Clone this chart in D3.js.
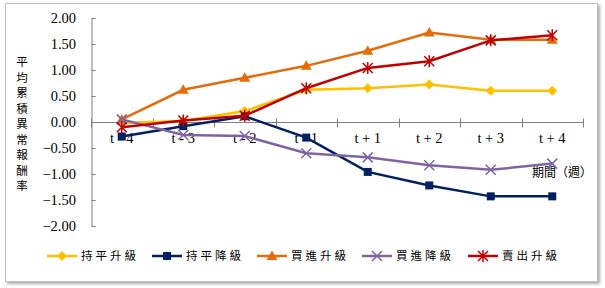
<!DOCTYPE html>
<html>
<head>
<meta charset="utf-8">
<script src="https://cdn.jsdelivr.net/npm/d3@7"></script>
<style>
  html, body { margin: 0; padding: 0; background: #fff; }
  svg { display: block; }
</style>
</head>
<body>
<div id="host"></div>
<script>
const periods = ['t - 4', 't - 3', 't - 2', 't - 1', 't + 1', 't + 2', 't + 3', 't + 4'];
const yTicks = [2, 1.5, 1, 0.5, 0, -0.5, -1, -1.5, -2];

const holdUp = [-0.02, 0.02, 0.21, 0.62, 0.65, 0.72, 0.60, 0.60];
const holdDown = [-0.28, -0.08, 0.11, -0.30, -0.96, -1.22, -1.43, -1.43];
const buyUp = [0.05, 0.62, 0.85, 1.08, 1.37, 1.72, 1.58, 1.58];
const buyDown = [0.05, -0.25, -0.27, -0.60, -0.68, -0.83, -0.92, -0.80];
const sellUp = [-0.10, 0.03, 0.12, 0.65, 1.04, 1.17, 1.57, 1.67];

const series = [
  { name: '持平升級', values: holdUp, color: '#FFC000', marker: 'diamond' },
  { name: '持平降級', values: holdDown, color: '#002060', marker: 'square' },
  { name: '買進升級', values: buyUp, color: '#E46C0A', marker: 'triangle' },
  { name: '買進降級', values: buyDown, color: '#8064A2', marker: 'x' },
  { name: '賣出升級', values: sellUp, color: '#C00000', marker: 'star' },
];

const W = 605, H = 288;
const svg = d3.select('#host').append('svg').attr('width', W).attr('height', H);

// frame with soft shadow
const defs = svg.append('defs');
const f = defs.append('filter').attr('id', 'sh').attr('x', -0.05).attr('y', -0.05).attr('width', 1.1).attr('height', 1.1);
f.append('feDropShadow').attr('dx', 2).attr('dy', 2).attr('stdDeviation', 1.5).attr('flood-color', '#888').attr('flood-opacity', 0.7);
svg.append('rect')
  .attr('x', 5.5).attr('y', 3.5).attr('width', 592).attr('height', 278)
  .attr('fill', '#fff').attr('stroke', '#bfbfbf').attr('filter', 'url(#sh)');

const x = d3.scaleBand().domain(periods).range([91, 583]);
const y = d3.scaleLinear().domain([-2, 2]).range([226, 18]);
const cx = (i) => x(periods[i]) + x.bandwidth() / 2;

const serif = "'Liberation Serif', 'Times New Roman', serif";
const cjk = "'Noto Sans CJK TC', 'Noto Sans CJK SC', sans-serif";

// y axis
const yAxis = svg.append('g').attr('transform', 'translate(91.5,0)')
  .call(d3.axisRight(y).tickValues(yTicks).tickSize(4).tickFormat(''));
yAxis.select('.domain').attr('stroke', '#808080');
yAxis.selectAll('.tick line').attr('stroke', '#808080');

svg.append('g').selectAll('text').data(yTicks).join('text')
  .attr('x', 76).attr('y', (d) => y(d) + 5)
  .attr('text-anchor', 'end')
  .attr('font-family', serif).attr('font-size', 14.5).attr('fill', '#000')
  .text((d) => d3.format('.2f')(d));

// x axis at zero
const xAxisG = svg.append('g').attr('transform', `translate(0,${Math.round(y(0)) + 0.5})`);
xAxisG.append('line').attr('x1', 91).attr('x2', 583).attr('stroke', '#808080');
const bounds = d3.range(periods.length + 1).map((i) => 91 + i * x.bandwidth());
xAxisG.selectAll('line.tk').data(bounds).join('line').attr('class', 'tk')
  .attr('x1', (d) => Math.round(d) + 0.5).attr('x2', (d) => Math.round(d) + 0.5)
  .attr('y1', -4).attr('y2', 5).attr('stroke', '#808080');

svg.append('g').selectAll('text').data(periods).join('text')
  .attr('x', (d) => x(d) + x.bandwidth() / 2).attr('y', y(0) + 21)
  .attr('text-anchor', 'middle')
  .attr('font-family', serif).attr('font-size', 14.5).attr('fill', '#000')
  .text((d) => d);

// y title, vertical stacked
const yTitle = '平均累積異常報酬率'.split('');
svg.append('g').selectAll('text').data(yTitle).join('text')
  .attr('x', 22).attr('y', (d, i) => 66 + i * 15.5)
  .attr('text-anchor', 'middle')
  .attr('font-family', cjk).attr('font-size', 11.5).attr('fill', '#000')
  .text((d) => d);

svg.append('text').attr('x', 592).attr('y', 177)
  .attr('text-anchor', 'end')
  .attr('font-family', cjk).attr('font-size', 12).attr('fill', '#000')
  .text('期間（週）');

function marker(g, type, color, px, py) {
  if (type === 'diamond') {
    g.append('path').attr('d', `M${px},${py - 5}L${px + 5},${py}L${px},${py + 5}L${px - 5},${py}Z`).attr('fill', color);
  } else if (type === 'square') {
    g.append('rect').attr('x', px - 4).attr('y', py - 4).attr('width', 8).attr('height', 8).attr('fill', color);
  } else if (type === 'triangle') {
    g.append('path').attr('d', `M${px},${py - 5.5}L${px + 5.5},${py + 4}L${px - 5.5},${py + 4}Z`).attr('fill', color);
  } else if (type === 'x') {
    g.append('path').attr('d', `M${px - 5},${py - 5}L${px + 5},${py + 5}M${px - 5},${py + 5}L${px + 5},${py - 5}`)
      .attr('stroke', color).attr('stroke-width', 1.5);
  } else {
    g.append('path').attr('d', `M${px - 5},${py - 5}L${px + 5},${py + 5}M${px - 5},${py + 5}L${px + 5},${py - 5}M${px},${py - 6}L${px},${py + 6}`)
      .attr('stroke', color).attr('stroke-width', 1.5);
  }
}

const line = d3.line().x((d, i) => cx(i)).y((d) => y(d));
const plot = svg.append('g');
series.forEach((s) => {
  const g = plot.append('g');
  g.append('path').datum(s.values).attr('d', line)
    .attr('fill', 'none').attr('stroke', s.color).attr('stroke-width', 2.5);
  s.values.forEach((v, i) => marker(g, s.marker, s.color, cx(i), y(v)));
});

// legend
const legendX = [47, 152, 257, 362, 468];
const lg = svg.append('g');
series.forEach((s, i) => {
  const lx = legendX[i], ly = 256;
  const g = lg.append('g');
  g.append('line').attr('x1', lx).attr('x2', lx + 30).attr('y1', ly).attr('y2', ly)
    .attr('stroke', s.color).attr('stroke-width', 2.5);
  marker(g, s.marker, s.color, lx + 15, ly);
  g.append('text').attr('x', lx + 34).attr('y', ly + 4)
    .attr('font-family', cjk).attr('font-size', 11.5).attr('letter-spacing', 3).attr('fill', '#000')
    .text(s.name);
});
</script>
</body>
</html>
